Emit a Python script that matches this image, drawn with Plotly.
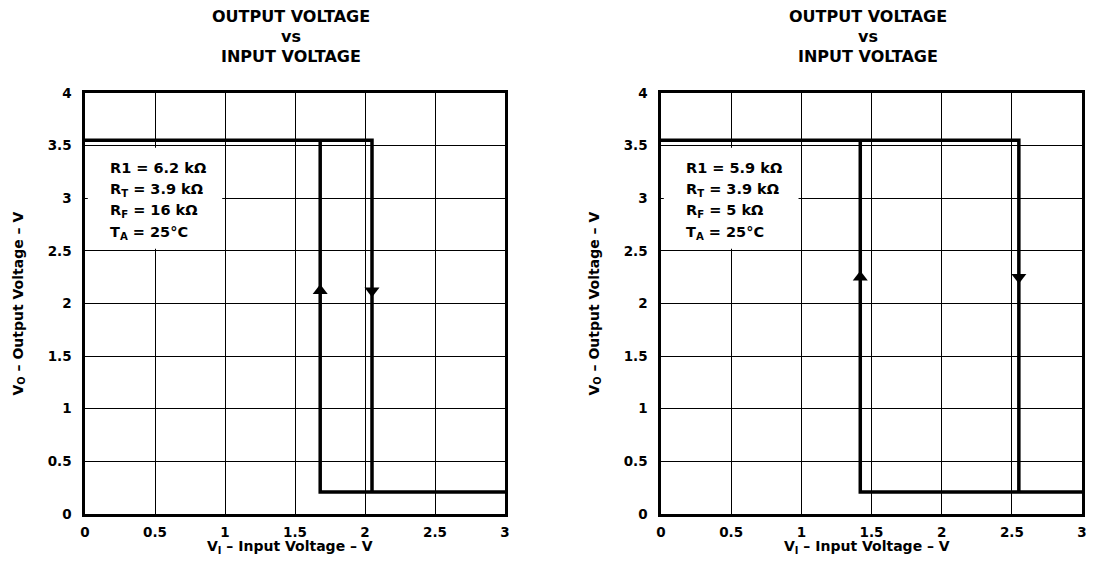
import plotly.graph_objects as go

# ---- data ----
titles = ["OUTPUT VOLTAGE<br>vs<br>INPUT VOLTAGE", "OUTPUT VOLTAGE<br>vs<br>INPUT VOLTAGE"]
v_high = [3.55, 3.55]
v_low = [0.21, 0.21]
rise_x = [1.68, 1.42]     # V_I where output switches high (rising)
fall_x = [2.05, 2.55]     # V_I where output switches low (falling)
arrow_y = [2.12, 2.25]
cond_lines = [
    ["R1 = 6.2 kΩ", "R<sub>T</sub> = 3.9 kΩ", "R<sub>F</sub> = 16 kΩ", "T<sub>A</sub> = 25°C"],
    ["R1 = 5.9 kΩ", "R<sub>T</sub> = 3.9 kΩ", "R<sub>F</sub> = 5 kΩ", "T<sub>A</sub> = 25°C"],
]
x_ticks = [0, 0.5, 1, 1.5, 2, 2.5, 3]
x_ticklabels = ["0", "0.5", "1", "1.5", "2", "2.5", "3"]
y_ticks = [0, 0.5, 1, 1.5, 2, 2.5, 3, 3.5, 4]
y_ticklabels = ["0", "0.5", "1", "1.5", "2", "2.5", "3", "3.5", "4"]
x_title = "V<sub>I</sub> – Input Voltage – V"
y_title = "V<sub>O</sub> – Output Voltage – V"

# page has an 8px body margin; figure sized to fit the window
OFF = 8
W, H = 1096 - 2 * OFF, 567 - 2 * OFF
FONT = "DejaVu Sans, Verdana, sans-serif"
plots_px = [(85, 505), (661, 1082)]
top_px, bot_px = 93, 514


def px_x(p):
    return (p - OFF) / W


def px_y(p):
    return 1 - (p - OFF) / H


fig = go.Figure()

for i in range(2):
    xa = "x" if i == 0 else "x2"
    ya = "y" if i == 0 else "y2"
    # hysteresis path
    fig.add_trace(go.Scatter(
        x=[0, fall_x[i], fall_x[i]], y=[v_high[i], v_high[i], v_low[i]],
        mode="lines", line=dict(color="black", width=3.5),
        xaxis=xa, yaxis=ya, showlegend=False, hoverinfo="skip"))
    fig.add_trace(go.Scatter(
        x=[3, rise_x[i], rise_x[i]], y=[v_low[i], v_low[i], v_high[i]],
        mode="lines", line=dict(color="black", width=3.5),
        xaxis=xa, yaxis=ya, showlegend=False, hoverinfo="skip"))
    # arrows
    fig.add_trace(go.Scatter(
        x=[rise_x[i], fall_x[i]], y=[arrow_y[i], arrow_y[i]],
        mode="markers", marker=dict(symbol=["triangle-up", "triangle-down"], size=13, color="black"),
        xaxis=xa, yaxis=ya, showlegend=False, hoverinfo="skip"))

    # white box behind condition text
    fig.add_shape(type="rect", xref=xa, yref=ya, x0=0.02, x1=0.98, y0=2.52, y1=3.48,
                  fillcolor="white", line=dict(width=0), layer="between")

    x0p, x1p = plots_px[i]
    # conditions text
    for k, t in enumerate(cond_lines[i]):
        ypx = 168 + k * 21.7
        fig.add_annotation(xref="paper", yref="paper",
                           x=px_x(x0p + 23), y=px_y(ypx),
                           xanchor="left", yanchor="middle", showarrow=False,
                           text=t, font=dict(family=FONT, size=14.5, color="black", weight="bold"))
    # title (one annotation per line)
    for k, line in enumerate(titles[i].split("<br>")):
        fig.add_annotation(xref="paper", yref="paper", x=px_x((x0p + x1p) / 2 - 4), y=px_y(17 + k * 19.5),
                           xanchor="center", yanchor="middle", showarrow=False,
                           text=line, font=dict(family=FONT, size=16, color="black", weight="bold"))
    # axis titles
    fig.add_annotation(xref="paper", yref="paper", x=px_x((x0p + x1p) / 2 - 5), y=px_y(547),
                       xanchor="center", yanchor="middle", showarrow=False,
                       text=x_title, font=dict(family=FONT, size=14, color="black", weight="bold"))
    fig.add_annotation(xref="paper", yref="paper", x=px_x(x0p - 67), y=px_y((top_px + bot_px) / 2),
                       xanchor="center", yanchor="middle", showarrow=False, textangle=-90,
                       text=y_title, font=dict(family=FONT, size=14, color="black", weight="bold"))

axis_common = dict(showgrid=True, gridcolor="black", gridwidth=1.3,
                   showline=True, mirror=True, linecolor="black", linewidth=2.5,
                   zeroline=False, ticks="", automargin=False,
                   tickfont=dict(family=FONT, size=13.5, color="black", weight="bold"))

ydom = [px_y(bot_px), px_y(top_px)]
fig.update_layout(
    width=W, height=H,
    margin=dict(l=0, r=0, t=0, b=0, autoexpand=False),
    paper_bgcolor="white", plot_bgcolor="white",
    xaxis=dict(domain=[px_x(plots_px[0][0]), px_x(plots_px[0][1])], range=[0, 3], anchor="y",
               tickvals=x_ticks, ticktext=x_ticklabels, ticklabelstandoff=4, **axis_common),
    yaxis=dict(domain=ydom, range=[0, 4], anchor="x",
               tickvals=y_ticks, ticktext=y_ticklabels, ticklabelstandoff=8, **axis_common),
    xaxis2=dict(domain=[px_x(plots_px[1][0]), px_x(plots_px[1][1])], range=[0, 3], anchor="y2",
                tickvals=x_ticks, ticktext=x_ticklabels, ticklabelstandoff=4, **axis_common),
    yaxis2=dict(domain=ydom, range=[0, 4], anchor="x2",
                tickvals=y_ticks, ticktext=y_ticklabels, ticklabelstandoff=8, **axis_common),
)

fig.write_html("out.html")
